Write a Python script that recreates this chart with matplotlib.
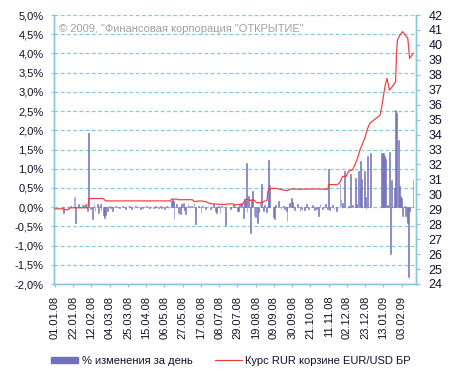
import matplotlib
matplotlib.use("Agg")
import matplotlib.pyplot as plt
import pandas as pd
from datetime import datetime

plt.rcParams['font.family'] = ['Liberation Sans', 'DejaVu Sans']

# ---- data -------------------------------------------------------------
bar_dates = [
    "11.01.08", "16.01.08", "19.01.08", "23.01.08", "24.01.08", "25.01.08", "28.01.08",
    "01.02.08", "03.02.08", "05.02.08", "07.02.08", "09.02.08", "11.02.08", "13.02.08",
    "15.02.08", "16.02.08", "19.02.08", "20.02.08", "22.02.08", "23.02.08", "26.02.08",
    "27.02.08", "28.02.08", "01.03.08", "04.03.08", "05.03.08", "07.03.08", "11.03.08",
    "13.03.08", "15.03.08", "19.03.08", "22.03.08", "25.03.08", "27.03.08", "29.03.08",
    "01.04.08", "03.04.08", "05.04.08", "08.04.08", "11.04.08", "15.04.08", "17.04.08",
    "19.04.08", "23.04.08", "25.04.08", "26.04.08", "29.04.08",
    "01.05.08", "03.05.08", "06.05.08", "08.05.08", "10.05.08", "14.05.08", "15.05.08",
    "16.05.08", "17.05.08", "20.05.08", "22.05.08", "24.05.08", "26.05.08", "28.05.08",
    "29.05.08", "30.05.08",
    "02.06.08", "04.06.08", "06.06.08", "09.06.08", "10.06.08", "11.06.08", "14.06.08",
    "17.06.08", "19.06.08", "22.06.08", "25.06.08", "28.06.08",
    "01.07.08", "04.07.08", "05.07.08", "07.07.08", "09.07.08", "11.07.08", "15.07.08",
    "17.07.08", "21.07.08", "24.07.08", "26.07.08", "29.07.08", "30.07.08", "31.07.08",
    "03.08.08", "05.08.08", "06.08.08", "07.08.08", "08.08.08", "09.08.08", "11.08.08",
    "13.08.08", "14.08.08", "15.08.08", "17.08.08", "19.08.08", "21.08.08", "22.08.08",
    "24.08.08", "26.08.08", "28.08.08", "29.08.08", "31.08.08",
    "02.09.08", "03.09.08", "04.09.08", "08.09.08", "10.09.08", "11.09.08", "14.09.08",
    "17.09.08", "20.09.08", "21.09.08", "23.09.08", "24.09.08", "27.09.08", "29.09.08",
    "30.09.08",
    "03.10.08", "06.10.08", "09.10.08", "11.10.08", "14.10.08", "16.10.08", "19.10.08",
    "23.10.08", "26.10.08", "28.10.08", "30.10.08",
    "01.11.08", "04.11.08", "07.11.08", "10.11.08", "11.11.08", "12.11.08", "15.11.08",
    "17.11.08", "20.11.08", "24.11.08", "25.11.08", "27.11.08", "29.11.08",
    "02.12.08", "04.12.08", "06.12.08", "08.12.08", "12.12.08", "13.12.08", "15.12.08",
    "17.12.08", "18.12.08", "19.12.08", "22.12.08", "23.12.08", "24.12.08", "26.12.08",
    "29.12.08",
    "11.01.09", "12.01.09", "13.01.09", "14.01.09", "15.01.09", "18.01.09", "20.01.09",
    "21.01.09", "22.01.09", "24.01.09", "26.01.09", "27.01.09", "28.01.09", "30.01.09",
    "31.01.09",
    "02.02.09", "03.02.09", "04.02.09", "06.02.09", "07.02.09", "09.02.09", "10.02.09",
    "11.02.09", "12.02.09", "16.02.09",
]
bar_values = [
    -0.15, -0.06, 0.03, 0.27, 0.29, -0.41, 0.07,
    0.07, 0.05, 0.08, -0.10, 1.92, -0.06, -0.32,
    0.10, -0.10, 0.07, -0.15, 0.07, -0.10, -0.20,
    -0.28, -0.20, -0.10, 0.02, -0.02, -0.10, 0.02,
    0.01, -0.03, 0.03, -0.05, 0.02, 0.03, -0.05,
    -0.02, 0.02, 0.01, -0.04, -0.02, 0.03, -0.02,
    -0.03, -0.03, -0.03, 0.02, -0.03,
    0.02, -0.02, -0.06, 0.02, -0.02, 0.17, 0.20,
    0.15, -0.32, 0.07, -0.15, -0.19, 0.09, 0.10,
    -0.08, -0.19,
    0.07, 0.04, 0.03, 0.11, -0.10, -0.45, 0.02,
    -0.15, 0.04, -0.06, 0.04, -0.06,
    0.07, -0.10, -0.15, 0.03, -0.15, 0.03, -0.47,
    0.03, -0.06, 0.07, 0.04, -0.10, -0.09, 0.07,
    0.11, -0.28, 0.22, 0.17, 1.15, -0.13, 0.30,
    -0.67, 0.20, 0.43, -0.22, -0.25, -0.42, -0.12,
    0.17, 0.60, -0.09, 0.05, -0.12,
    0.22, 1.22, 0.58, -0.25, -0.30, 0.05, 0.17,
    -0.06, 0.04, -0.06, -0.09, -0.35, 0.12, 0.24,
    0.13,
    -0.07, 0.07, -0.09, -0.05, -0.07, 0.07, -0.04,
    0.05, -0.07, -0.05, -0.22,
    0.07, -0.04, 0.07, -0.05, 1.00, -0.07, 0.05,
    -0.05, -0.09, 0.63, 0.22, 0.12, 0.93,
    -0.02, 0.04, 0.87, 0.05, 0.76, 0.09, 0.94,
    0.60, 1.21, 0.73, 0.95, 0.27, -0.04, 1.34,
    1.40,
    1.41, 1.41, 1.41, 1.34, 1.25, 0.05, 1.44,
    -1.22, 0.71, 0.03, 0.50, 2.52, 2.45, 1.75,
    0.55,
    0.28, 0.25, -0.22, 0.03, -0.24, -0.30, -0.42,
    -1.82, -0.10, 0.72,
]

rate_dates = [
    "01.01.08", "10.01.08", "11.01.08", "16.01.08", "17.01.08", "19.01.08", "08.02.08",
    "09.02.08", "25.02.08", "27.02.08", "28.02.08", "13.05.08", "14.05.08", "21.05.08",
    "22.05.08", "07.06.08", "09.06.08", "16.06.08", "22.06.08", "28.06.08", "13.07.08",
    "23.07.08", "26.07.08", "04.08.08", "07.08.08", "10.08.08", "12.08.08", "17.08.08",
    "20.08.08", "26.08.08", "28.08.08", "01.09.08", "02.09.08", "04.09.08", "11.09.08",
    "19.09.08", "24.09.08", "29.09.08", "09.10.08", "26.10.08", "10.11.08", "11.11.08",
    "21.11.08", "24.11.08", "27.11.08", "01.12.08", "04.12.08", "08.12.08", "10.12.08",
    "14.12.08", "17.12.08", "20.12.08", "23.12.08", "25.12.08", "28.12.08", "09.01.09",
    "11.01.09", "13.01.09", "15.01.09", "17.01.09", "20.01.09", "23.01.09", "27.01.09",
    "28.01.09", "29.01.09", "01.02.09", "04.02.09", "07.02.09", "10.02.09", "12.02.09",
    "15.02.09", "16.02.09",
]
rate_values = [
    29.03, 29.03, 28.97, 28.97, 29.03, 29.10, 29.10,
    29.72, 29.72, 29.64, 29.56, 29.56, 29.68, 29.68,
    29.64, 29.64, 29.52, 29.56, 29.52, 29.37, 29.32,
    29.37, 29.30, 29.34, 29.66, 29.66, 29.59, 29.62,
    29.44, 29.44, 29.52, 29.59, 30.21, 30.38, 30.40,
    30.30, 30.25, 30.36, 30.34, 30.36, 30.34, 30.66,
    30.64, 30.82, 31.20, 31.20, 31.56, 31.62, 31.83,
    32.39, 32.99, 33.40, 33.84, 34.29, 34.74, 35.30,
    35.85, 36.60, 37.30, 37.76, 36.97, 37.20, 37.53,
    39.44, 40.33, 40.66, 40.89, 40.66, 40.44, 39.10,
    39.32, 39.44,
]

tick_dates = ["01.01.08", "22.01.08", "12.02.08", "04.03.08", "25.03.08", "15.04.08",
              "06.05.08", "27.05.08", "17.06.08", "08.07.08", "29.07.08", "19.08.08",
              "09.09.08", "30.09.08", "21.10.08", "11.11.08", "02.12.08", "23.12.08",
              "13.01.09", "03.02.09"]
left_ticks = [-2.0, -1.5, -1.0, -0.5, 0.0, 0.5, 1.0, 1.5, 2.0, 2.5, 3.0, 3.5, 4.0, 4.5, 5.0]
right_ticks = list(range(24, 43))

bar_label = "% изменения за день"
rate_label = "Курс RUR корзине EUR/USD БР"
copyright_text = '© 2009, "Финансовая корпорация "ОТКРЫТИЕ"'

# ---- styling ----------------------------------------------------------
BAR_C = "#7370B9"
RED_C = "#F03A3A"
GRID_C = "#86C8E2"
TXT_C = "#10102A"
FS = 8

fmt = "%d.%m.%y"
bx = pd.to_datetime(bar_dates, format=fmt)
rx = pd.to_datetime(rate_dates, format=fmt)
tx = pd.to_datetime(tick_dates, format=fmt)

fig = plt.figure(figsize=(4.56, 3.80), dpi=100)
fig.patch.set_facecolor("white")
ax = fig.add_axes([54 / 456, 1 - 284 / 380, (416 - 54) / 456, (284 - 15) / 380])
ax2 = ax.twinx()

ax.bar(bx, bar_values, width=0.9, color=BAR_C, edgecolor=BAR_C, linewidth=0.4, zorder=3)
ax2.plot(rx, rate_values, color=RED_C, lw=0.85, zorder=4)

ax.set_xlim(datetime(2007, 12, 30, 21), datetime(2009, 2, 19, 10))
ax.set_ylim(-2.0, 5.0)
ax2.set_ylim(24, 42)

ax.set_yticks(left_ticks)
ax.set_yticklabels([f"{v:.1f}%".replace(".", ",") for v in left_ticks])
ax2.set_yticks(right_ticks)
ax2.set_yticklabels([str(v) for v in right_ticks])
ax.set_xticks(tx)
ax.set_xticklabels(tick_dates, rotation=90)

ax.yaxis.grid(True, color=GRID_C, linestyle=(0, (3, 2)), linewidth=0.9, zorder=0)
ax.set_axisbelow(True)

for a in (ax, ax2):
    a.spines["top"].set_visible(False)
    for side in ("left", "right", "bottom"):
        a.spines[side].set_color(GRID_C)
        a.spines[side].set_linewidth(1.0)

ax.tick_params(axis="y", direction="out", length=2.5, width=0.9, color=GRID_C,
               labelsize=FS, labelcolor=TXT_C, pad=5)
ax.tick_params(axis="x", direction="out", length=2.5, width=0.9, color=GRID_C,
               labelsize=FS, labelcolor=TXT_C, pad=6)
ax2.tick_params(axis="y", direction="out", length=3, width=0.9, color=GRID_C,
                labelsize=FS + 1, labelcolor=TXT_C, pad=6)

ax.text(0.015, 0.965, copyright_text, transform=ax.transAxes, fontsize=FS,
        color="#A0A0A0", ha="left", va="top")

h1 = plt.Rectangle((0, 0), 1, 1, color=BAR_C)
h2 = plt.Line2D([], [], color=RED_C, lw=0.85)
fig.legend([h1, h2], [bar_label, rate_label], loc="center",
           bbox_to_anchor=(0.507, 1 - 361 / 380), ncol=2, frameon=False,
           fontsize=FS, handlelength=2.4, handleheight=0.5, handletextpad=0.35,
           columnspacing=2.0, labelcolor=TXT_C)

fig.savefig("out.png", dpi=100, facecolor="white")
